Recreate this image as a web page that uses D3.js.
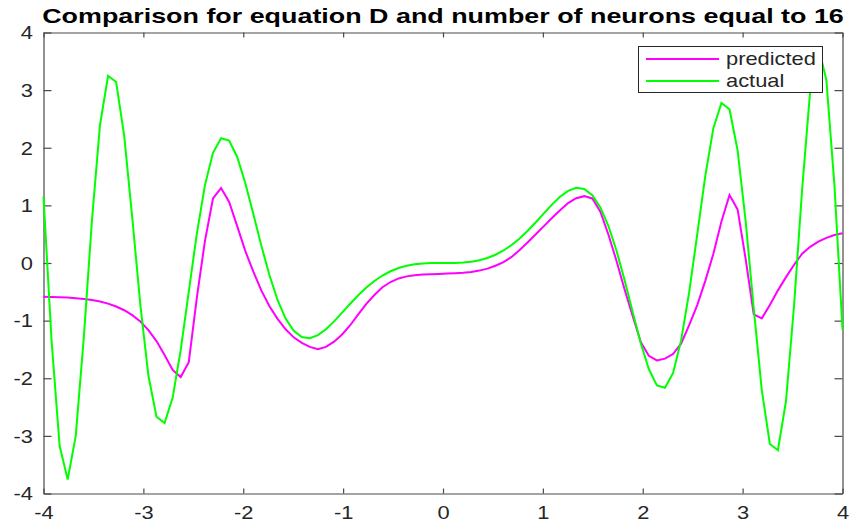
<!DOCTYPE html>
<html>
<head>
<meta charset="utf-8">
<script src="https://cdn.jsdelivr.net/npm/d3@7"></script>
<style>
  html, body { margin: 0; padding: 0; background: #fff; }
  svg { display: block; }
</style>
</head>
<body>
<svg id="chart" width="853" height="524"></svg>
<script>
const titleText = "Comparison for equation D and number of neurons equal to 16";
const seriesNames = ["predicted", "actual"];
const xTicks = [-4, -3, -2, -1, 0, 1, 2, 3, 4];
const yTicks = [-4, -3, -2, -1, 0, 1, 2, 3, 4];

const xValues = [
  -4.0000, -3.9192, -3.8384, -3.7576, -3.6768, -3.5960, -3.5152, -3.4343, -3.3535, -3.2727,
  -3.1919, -3.1111, -3.0303, -2.9495, -2.8687, -2.7879, -2.7071, -2.6263, -2.5455, -2.4646,
  -2.3838, -2.3030, -2.2222, -2.1414, -2.0606, -1.9798, -1.8990, -1.8182, -1.7374, -1.6566,
  -1.5758, -1.4949, -1.4141, -1.3333, -1.2525, -1.1717, -1.0909, -1.0101, -0.9293, -0.8485,
  -0.7677, -0.6869, -0.6061, -0.5253, -0.4444, -0.3636, -0.2828, -0.2020, -0.1212, -0.0404,
   0.0404,  0.1212,  0.2020,  0.2828,  0.3636,  0.4444,  0.5253,  0.6061,  0.6869,  0.7677,
   0.8485,  0.9293,  1.0101,  1.0909,  1.1717,  1.2525,  1.3333,  1.4141,  1.4949,  1.5758,
   1.6566,  1.7374,  1.8182,  1.8990,  1.9798,  2.0606,  2.1414,  2.2222,  2.3030,  2.3838,
   2.4646,  2.5455,  2.6263,  2.7071,  2.7879,  2.8687,  2.9495,  3.0303,  3.1111,  3.1919,
   3.2727,  3.3535,  3.4343,  3.5152,  3.5960,  3.6768,  3.7576,  3.8384,  3.9192,  4.0000
];

const actualValues = [
   1.1516, -1.3509, -3.1766, -3.7570, -2.9960, -1.2821,  0.7331,  2.3949,  3.2487,  3.1412,
   2.2073,  0.7825, -0.7263, -1.9565, -2.6691, -2.7784, -2.3406, -1.5134, -0.4961,  0.5107,
   1.3471,  1.9122,  2.1655,  2.1244,  1.8402,  1.3895,  0.8508,  0.2972, -0.2134, -0.6411,
  -0.9641, -1.1775, -1.2860, -1.3047, -1.2525, -1.1488, -1.0128, -0.8606, -0.7066, -0.5595,
  -0.4268, -0.3122, -0.2176, -0.1431, -0.0872, -0.0479, -0.0226, -0.0082, -0.0018, -0.0001,
   0.0001,  0.0018,  0.0082,  0.0226,  0.0479,  0.0872,  0.1431,  0.2176,  0.3122,  0.4268,
   0.5595,  0.7066,  0.8606,  1.0128,  1.1488,  1.2525,  1.3047,  1.2860,  1.1775,  0.9641,
   0.6411,  0.2134, -0.2972, -0.8508, -1.3895, -1.8402, -2.1244, -2.1655, -1.9122, -1.3471,
  -0.5107,  0.4961,  1.5134,  2.3406,  2.7784,  2.6691,  1.9565,  0.7263, -0.7825, -2.2073,
  -3.1412, -3.2487, -2.3949, -0.7331,  1.2821,  2.9960,  3.7570,  3.1766,  1.3509, -1.1516
];

const predictedValues = [
  -0.587, -0.590, -0.594, -0.600, -0.610, -0.623, -0.642, -0.668, -0.705, -0.755,
  -0.820, -0.905, -1.015, -1.165, -1.355, -1.595, -1.855, -1.980, -1.720, -0.600,
   0.380,  1.120,  1.300,  1.060,  0.640,  0.210, -0.150, -0.480, -0.750, -0.970,
  -1.150, -1.290, -1.385, -1.455, -1.495, -1.455, -1.365, -1.240, -1.080, -0.890,
  -0.710, -0.555, -0.420, -0.330, -0.268, -0.232, -0.212, -0.200, -0.194, -0.189,
  -0.184, -0.178, -0.169, -0.155, -0.132, -0.098, -0.048,  0.015,  0.105,  0.225,
   0.360,  0.500,  0.640,  0.780,  0.915,  1.040,  1.125,  1.160,  1.120,  0.890,
   0.490,  0.035, -0.460, -0.920, -1.370, -1.610, -1.690, -1.660, -1.580, -1.400,
  -1.080, -0.730, -0.310,  0.160,  0.720,  1.180,  0.930,  0.070, -0.890, -0.960,
  -0.730, -0.475, -0.245, -0.030,  0.160,  0.280,  0.370,  0.435,  0.485,  0.515
];

const colors = { predicted: "#ff00ff", actual: "#00ff00" };

const FONT = "'Liberation Sans', Arial, Helvetica, sans-serif";
const SX = 1.25;   // horizontal stretch of the reference image text
const svg = d3.select("#chart");
svg.append("rect").attr("width", 853).attr("height", 524).attr("fill", "#fff");

const L = 43.5, R = 842.5, T = 32.5, B = 493.5;
const x = d3.scaleLinear().domain([-4, 4]).range([L, R]);
const y = d3.scaleLinear().domain([-4, 4]).range([B, T]);

const axisColor = "#4a4a4a";
const labelColor = "#262626";
const fmt = d => String(d);

// Axes
const gx = svg.append("g").attr("transform", `translate(0,${B})`).style("color", axisColor)
  .call(d3.axisBottom(x).tickValues(xTicks).tickSizeInner(-5).tickSizeOuter(0).tickPadding(13).tickFormat(fmt));
const gxTop = svg.append("g").attr("transform", `translate(0,${T})`).style("color", axisColor)
  .call(d3.axisTop(x).tickValues(xTicks).tickSizeInner(-5).tickSizeOuter(0).tickFormat(""));
const gy = svg.append("g").attr("transform", `translate(${L},0)`).style("color", axisColor)
  .call(d3.axisLeft(y).tickValues(yTicks).tickSizeInner(-8).tickSizeOuter(0).tickPadding(8).tickFormat(fmt));
const gyR = svg.append("g").attr("transform", `translate(${R},0)`).style("color", axisColor)
  .call(d3.axisRight(y).tickValues(yTicks).tickSizeInner(-8).tickSizeOuter(0).tickFormat(""));

[gx, gxTop, gy, gyR].forEach(g => {
  g.select(".domain").attr("stroke-width", 1.2);
  g.selectAll(".tick line").attr("stroke-width", 1.2);
});
gx.selectAll("text").attr("font-family", FONT).attr("font-size", 17.5).attr("fill", labelColor)
  .attr("transform", `scale(${SX},1)`);
gy.selectAll("text").attr("font-family", FONT).attr("font-size", 17.5).attr("fill", labelColor)
  .attr("x", -10.5 / SX).attr("dy", "0.36em").attr("transform", `scale(${SX},1)`);

// Lines
const data = xValues.map((xv, i) => ({ x: xv, predicted: predictedValues[i], actual: actualValues[i] }));
seriesNames.forEach(name => {
  const line = d3.line().x(d => x(d.x)).y(d => y(d[name]));
  svg.append("path").datum(data)
    .attr("d", line)
    .attr("fill", "none")
    .attr("stroke", colors[name])
    .attr("stroke-width", 2)
    .attr("stroke-linejoin", "miter");
});

// Title
svg.append("text")
  .attr("transform", `translate(${(L + R) / 2},23) scale(1.28,1)`)
  .attr("text-anchor", "middle")
  .attr("font-family", FONT).attr("font-weight", "bold").attr("font-size", 21)
  .attr("fill", "#000")
  .text(titleText);

// Legend
const lg = svg.append("g");
lg.append("rect").attr("x", 638.5).attr("y", 46.5).attr("width", 184).attr("height", 46)
  .attr("fill", "#fff").attr("stroke", "#262626").attr("stroke-width", 1);
seriesNames.forEach((name, i) => {
  const ly = 59 + i * 22;
  lg.append("line").attr("x1", 646).attr("x2", 719).attr("y1", ly).attr("y2", ly)
    .attr("stroke", colors[name]).attr("stroke-width", 2);
  lg.append("text")
    .attr("transform", `translate(726,${ly + 6.3}) scale(${SX},1)`)
    .attr("font-family", FONT).attr("font-size", 17.5).attr("fill", labelColor)
    .text(name);
});
</script>
</body>
</html>
